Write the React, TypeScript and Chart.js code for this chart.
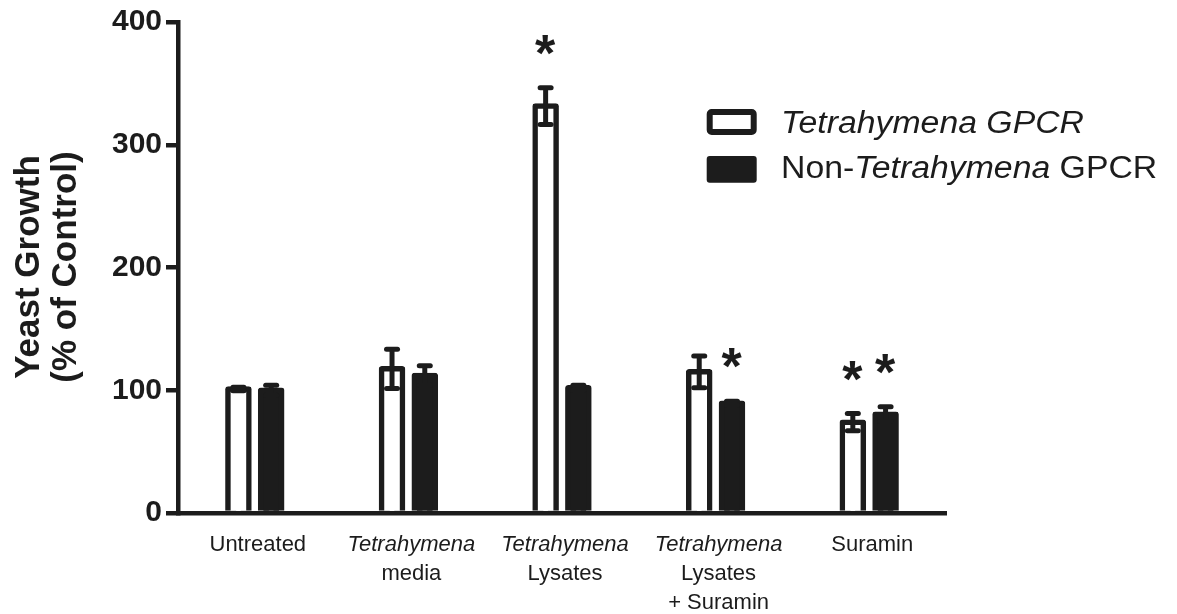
import React, { useEffect, useRef } from 'react';
import { Chart, registerables } from 'chart.js';

Chart.register(...registerables);

const INK = '#1c1c1c';
const FONT = '"Liberation Sans", Arial, Helvetica, sans-serif';

// ---- data ----
const categories = [
  'Untreated',
  'Tetrahymena media',
  'Tetrahymena Lysates',
  'Tetrahymena Lysates + Suramin',
  'Suramin',
];

// label lines per category: each line is a list of [text, italic]
const categoryLabelLines: [string, boolean][][][] = [
  [[['Untreated', false]]],
  [[['Tetrahymena', true]], [['media', false]]],
  [[['Tetrahymena', true]], [['Lysates', false]]],
  [[['Tetrahymena', true]], [['Lysates', false]], [['+ Suramin', false]]],
  [[['Suramin', false]]],
];

const seriesNames = ['Tetrahymena GPCR', 'Non-Tetrahymena GPCR'];
const seriesLegendSegments: [string, boolean][][] = [
  [['Tetrahymena GPCR', true]],
  [['Non-', false], ['Tetrahymena', true], [' GPCR', false]],
];

const tetraValues = [101, 117.5, 331.5, 115, 74];
const tetraErrors = [1.5, 16, 15, 13, 7];
const tetraStars = [false, false, true, false, true];

const nonTetraValues = [100, 112, 102, 89.5, 80.5];
const nonTetraErrors = [4, 8, 2, 1.5, 6];
const nonTetraStars = [false, false, false, true, true];

const yTicks = [0, 100, 200, 300, 400];
const yTitleLines = ['Yeast Growth', '(% of Control)'];

const errorsByDataset = [tetraErrors, nonTetraErrors];
const starsByDataset = [tetraStars, nonTetraStars];

function drawSegments(ctx: CanvasRenderingContext2D, segs: [string, boolean][], x: number, y: number, size: number, align: 'center' | 'left', stretch = 1) {
  ctx.save();
  ctx.translate(x, y);
  ctx.scale(stretch, 1);
  ctx.textAlign = 'left';
  ctx.textBaseline = 'alphabetic';
  const widths = segs.map(([t, it]) => {
    ctx.font = `${it ? 'italic ' : ''}${size}px ${FONT}`;
    return ctx.measureText(t).width;
  });
  const total = widths.reduce((a, b) => a + b, 0);
  let cx = align === 'center' ? -total / 2 : 0;
  segs.forEach(([t, it], i) => {
    ctx.font = `${it ? 'italic ' : ''}${size}px ${FONT}`;
    ctx.fillText(t, cx, 0);
    cx += widths[i];
  });
  ctx.restore();
}

const errorBarPlugin = {
  id: 'errorBars',
  afterDatasetsDraw(chart: any) {
    const ctx: CanvasRenderingContext2D = chart.ctx;
    const yScale = chart.scales.y;
    ctx.save();
    ctx.strokeStyle = INK;
    ctx.fillStyle = INK;
    chart.data.datasets.forEach((ds: any, di: number) => {
      const meta = chart.getDatasetMeta(di);
      meta.data.forEach((bar: any, i: number) => {
        const v = ds.data[i];
        const e = errorsByDataset[di][i];
        const x = bar.x;
        const yT = yScale.getPixelForValue(v + e);
        const yB = yScale.getPixelForValue(v - e);
        ctx.lineWidth = 5;
        ctx.lineCap = 'butt';
        ctx.beginPath();
        ctx.moveTo(x, yT);
        ctx.lineTo(x, yB);
        ctx.stroke();
        ctx.lineCap = 'round';
        [yT, yB].forEach((yy) => {
          ctx.beginPath();
          ctx.moveTo(x - 5.5, yy);
          ctx.lineTo(x + 5.5, yy);
          ctx.stroke();
        });
        if (starsByDataset[di][i]) {
          ctx.font = `bold 52px ${FONT}`;
          ctx.textAlign = 'left';
          ctx.textBaseline = 'alphabetic';
          const m = ctx.measureText('*');
          const cy = yT - 43;
          const by = cy + (m.actualBoundingBoxAscent - m.actualBoundingBoxDescent) / 2;
          const bx = x - (m.actualBoundingBoxRight - m.actualBoundingBoxLeft) / 2;
          ctx.fillText('*', bx, by);
        }
      });
    });
    ctx.restore();
  },
};

const annotationPlugin = {
  id: 'annotations',
  afterDraw(chart: any) {
    const ctx: CanvasRenderingContext2D = chart.ctx;
    const xScale = chart.scales.x;
    ctx.save();
    ctx.fillStyle = INK;
    // x category labels
    categoryLabelLines.forEach((lines, i) => {
      const cx = xScale.getPixelForValue(i) + 3;
      lines.forEach((segs, li) => {
        drawSegments(ctx, segs, cx, 551 + li * 29, 22, 'center');
      });
    });
    // y title
    ctx.save();
    ctx.translate(39, 267);
    ctx.rotate(-Math.PI / 2);
    ctx.font = `bold 35px ${FONT}`;
    ctx.textAlign = 'center';
    ctx.textBaseline = 'alphabetic';
    yTitleLines.forEach((t, li) => ctx.fillText(t, 0, li * 37));
    ctx.restore();
    // legend
    const bx = 706.7, bw = 50;
    ctx.lineWidth = 6;
    ctx.strokeStyle = INK;
    ctx.fillStyle = '#ffffff';
    ctx.beginPath();
    (ctx as any).roundRect(bx + 3, 112, bw - 6, 20, 2);
    ctx.fill();
    ctx.stroke();
    ctx.fillStyle = INK;
    ctx.beginPath();
    (ctx as any).roundRect(bx, 156, bw, 26.7, 3);
    ctx.fill();
    seriesLegendSegments.forEach((segs, li) => {
      drawSegments(ctx, segs, 781, 133.3 + li * 45, 31, 'left', 1.09);
    });
    ctx.restore();
  },
};

export default function App() {
  const ref = useRef<HTMLCanvasElement | null>(null);
  useEffect(() => {
    if (!ref.current) return;
    const barCommon = {
      borderColor: INK,
      borderWidth: 5.5,
      inflateAmount: 2.75,
      borderSkipped: 'start',
      borderRadius: { topLeft: 3, topRight: 3, bottomLeft: 0, bottomRight: 0 },
      categoryPercentage: 0.4265,
      barPercentage: 0.643,
    };
    const chart = new Chart(ref.current, {
      type: 'bar',
      data: {
        labels: categories,
        datasets: [
          { label: seriesNames[0], data: tetraValues, backgroundColor: '#ffffff', ...barCommon } as any,
          { label: seriesNames[1], data: nonTetraValues, backgroundColor: INK, ...barCommon } as any,
        ],
      },
      options: {
        animation: false,
        responsive: false,
        maintainAspectRatio: false,
        layout: { padding: { top: 19, right: 231, bottom: 0, left: 0 } },
        plugins: { legend: { display: false }, tooltip: { enabled: false } },
        scales: {
          x: {
            z: 1,
            grid: { display: false },
            border: { display: true, color: INK, width: 4.5 },
            ticks: { display: false },
            afterFit: (s: any) => { s.height = 101; },
          },
          y: {
            z: 1,
            min: yTicks[0],
            max: yTicks[yTicks.length - 1],
            afterBuildTicks: (s: any) => { s.ticks = yTicks.map((v) => ({ value: v })); },
            ticks: {
              color: INK,
              padding: 4,
              font: { family: FONT, size: 30, weight: 'bold' },
            },
            grid: { drawOnChartArea: false, drawTicks: true, tickLength: 12, color: INK, lineWidth: 4.5 },
            border: { display: true, color: INK, width: 4.5 },
            afterFit: (s: any) => { s.width = 178; },
          },
        },
      } as any,
      plugins: [errorBarPlugin, annotationPlugin],
    });
    return () => chart.destroy();
  }, []);
  return (
    <div style={{ position: 'fixed', left: 0, top: 0, width: 1177, height: 614, background: '#ffffff' }}>
      <canvas ref={ref} width={1177} height={614} style={{ display: 'block', width: 1177, height: 614 }} />
    </div>
  );
}
